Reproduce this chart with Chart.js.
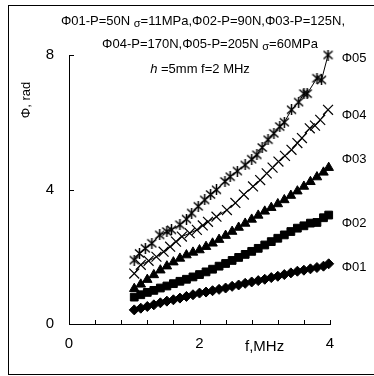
<!DOCTYPE html>
<html><head><meta charset="utf-8">
<script src="https://cdn.jsdelivr.net/npm/chart.js@4"></script>
<style>html,body{margin:0;padding:0;background:#fff}canvas{display:block}</style>
</head><body>
<canvas id="c" width="374" height="376"></canvas>
<script>
const freqA = [1.0,1.1,1.2,1.3,1.4,1.5,1.6,1.7,1.8,1.9,2.0,2.1,2.2,2.3,2.4,2.5,2.6,2.7,2.8,2.9,3.0,3.1,3.2,3.3,3.4,3.5,3.6,3.7,3.8,3.9,3.98];
const phi01 = [0.42,0.47,0.52,0.57,0.63,0.68,0.72,0.77,0.82,0.87,0.92,0.95,0.99,1.03,1.07,1.12,1.16,1.21,1.25,1.29,1.33,1.38,1.42,1.47,1.52,1.57,1.60,1.64,1.68,1.72,1.79];
const phi02 = [0.80,0.87,0.94,1.00,1.07,1.13,1.20,1.27,1.33,1.40,1.47,1.55,1.63,1.72,1.80,1.89,1.98,2.07,2.16,2.25,2.35,2.45,2.55,2.65,2.75,2.85,2.92,3.00,3.02,3.16,3.24];
const phi03 = [1.05,1.18,1.32,1.46,1.60,1.72,1.84,1.95,2.05,2.13,2.20,2.30,2.40,2.51,2.63,2.75,2.87,2.99,3.11,3.23,3.35,3.46,3.57,3.69,3.82,3.95,4.09,4.23,4.37,4.51,4.65];
const freq04 = [1.0,1.1,1.22,1.34,1.45,1.55,1.64,1.73,1.85,1.96,2.05,2.13,2.26,2.42,2.55,2.68,2.82,2.93,3.03,3.12,3.21,3.31,3.41,3.5,3.57,3.69,3.77,3.85,3.97];
const phi04 = [1.5,1.76,1.88,2.0,2.15,2.3,2.45,2.6,2.7,2.8,2.93,3.04,3.19,3.39,3.6,3.85,4.09,4.28,4.48,4.65,4.83,5.0,5.18,5.38,5.53,5.82,5.9,6.07,6.37];
const freq05 = [1.0,1.08,1.17,1.27,1.39,1.5,1.57,1.7,1.8,1.88,1.98,2.08,2.17,2.26,2.39,2.47,2.58,2.7,2.8,2.88,2.96,3.05,3.14,3.23,3.3,3.41,3.52,3.6,3.65,3.8,3.87,3.97];
const phi05 = [1.9,2.1,2.25,2.4,2.65,2.75,2.8,2.95,3.12,3.3,3.5,3.69,3.85,3.99,4.24,4.38,4.55,4.73,4.9,5.03,5.25,5.48,5.67,5.87,6.0,6.37,6.6,6.85,6.85,7.31,7.26,8.0];
const seriesNames = ['Φ01','Φ02','Φ03','Φ04','Φ05'];
const nameY = [1.68,3.0,4.9,6.2,7.9];
const nameX = 4.18;
const xTickLabels = [0,2,4];
const yTicks = [0,4,8];

function pts(xs, ys){ return xs.map((x,i)=>({x:x,y:ys[i]})); }

// asterisk-like marker (X with vertical bar)
const starImg = document.createElement('canvas');
starImg.width = 11; starImg.height = 11;
(function(){
  const g = starImg.getContext('2d');
  g.strokeStyle = '#000'; g.lineWidth = 1.5;
  g.beginPath();
  g.moveTo(1,1.5); g.lineTo(10,9.5);
  g.moveTo(10,1.5); g.lineTo(1,9.5);
  g.moveTo(5.5,0); g.lineTo(5.5,11);
  g.stroke();
})();

const frame = {
  id:'frame',
  afterDraw(chart){
    const ctx = chart.ctx, xs = chart.scales.x, ys = chart.scales.y;
    ctx.save();
    ctx.strokeStyle='#000'; ctx.lineWidth=1;
    ctx.strokeRect(8.5,5.5,380,369);
    ctx.beginPath();
    xs.ticks.forEach(t=>{ const px=Math.round(xs.getPixelForValue(t.value))+0.5; ctx.moveTo(px,ys.bottom); ctx.lineTo(px,ys.bottom-4); });
    ys.ticks.forEach(t=>{ const py=Math.round(ys.getPixelForValue(t.value))+0.5; ctx.moveTo(xs.left,py); ctx.lineTo(xs.left+5,py); });
    ctx.stroke();
    ctx.fillStyle='#000';
    ctx.textBaseline='middle';
    ctx.font='13px "Liberation Sans", Arial, sans-serif';
    ctx.textAlign='left';
    seriesNames.forEach((n,i)=>{ ctx.fillText(n, xs.getPixelForValue(nameX), ys.getPixelForValue(nameY[i])); });
    ctx.font='15px "Liberation Sans", Arial, sans-serif';
    ctx.fillText('f,MHz', 245, 347);
    ctx.save();
    ctx.translate(26,100); ctx.rotate(-Math.PI/2);
    ctx.font='13px "Liberation Sans", Arial, sans-serif';
    ctx.textAlign='center';
    ctx.fillText('Φ, rad',0,0);
    ctx.restore();
    const f12='13px "Liberation Sans", Arial, sans-serif';
    const fs='11px "Liberation Sans", Arial, sans-serif';
    function line(parts, cx, y){
      let w=0;
      parts.forEach(p=>{ ctx.font=p.f; w+=ctx.measureText(p.t).width; });
      let x=cx-w/2;
      ctx.textAlign='left';
      parts.forEach(p=>{ ctx.font=p.f; ctx.fillText(p.t,x,y+(p.dy||0)); x+=ctx.measureText(p.t).width; });
    }
    line([{t:'Φ01-P=50N ',f:f12},{t:'σ',f:fs,dy:3},{t:'=11MPa,Φ02-P=90N,Φ03-P=125N,',f:f12}],203,21);
    line([{t:'Φ04-P=170N,Φ05-P=205N ',f:f12},{t:'σ',f:fs,dy:3},{t:'=60MPa',f:f12}],210,44);
    line([{t:'h',f:'italic '+f12},{t:' =5mm f=2 MHz',f:f12}],200,69);
    ctx.restore();
  }
};

const common = {borderColor:'#000', backgroundColor:'#000', borderWidth:1, showLine:true, clip:false, pointBorderColor:'#000', pointBackgroundColor:'#000'};
new Chart(document.getElementById('c'),{
  type:'scatter',
  data:{datasets:[
    Object.assign({label:'Φ01', data:pts(freqA,phi01), pointStyle:'rectRot', pointRadius:5}, common),
    Object.assign({label:'Φ02', data:pts(freqA,phi02), pointStyle:'rect', pointRadius:5.5}, common),
    Object.assign({label:'Φ03', data:pts(freqA,phi03), pointStyle:'triangle', pointRadius:5.5}, common),
    Object.assign({label:'Φ04', data:pts(freq04,phi04), pointStyle:'crossRot', pointRadius:7, pointBorderWidth:1.2}, common),
    Object.assign({label:'Φ05', data:pts(freq05,phi05), pointStyle:starImg, pointRadius:6}, common)
  ]},
  options:{
    responsive:false, animation:false, devicePixelRatio:1,
    layout:{padding:{left:0,top:55,right:44,bottom:0}},
    plugins:{legend:{display:false}, tooltip:{enabled:false}},
    scales:{
      x:{type:'linear', min:0, max:4,
        afterFit(s){ s.height=52; },
        grid:{drawOnChartArea:false, drawTicks:false},
        border:{display:true,color:'#000',width:1},
        ticks:{stepSize:0.4, autoSkip:false, maxRotation:0, padding:11, color:'#000',
          font:{family:'"Liberation Sans", Arial, sans-serif', size:15},
          callback(v){ const r=Math.round(v*10)/10; return xTickLabels.includes(r)? String(r):''; }}
      },
      y:{type:'linear', min:0, max:8,
        afterFit(s){ s.width=69; },
        grid:{drawOnChartArea:false, drawTicks:false},
        border:{display:true,color:'#000',width:1},
        afterBuildTicks(s){ s.ticks = yTicks.map(v=>({value:v})); },
        ticks:{padding:15, color:'#000',
          font:{family:'"Liberation Sans", Arial, sans-serif', size:15}}
      }
    }
  },
  plugins:[frame]
});
</script>
</body></html>
